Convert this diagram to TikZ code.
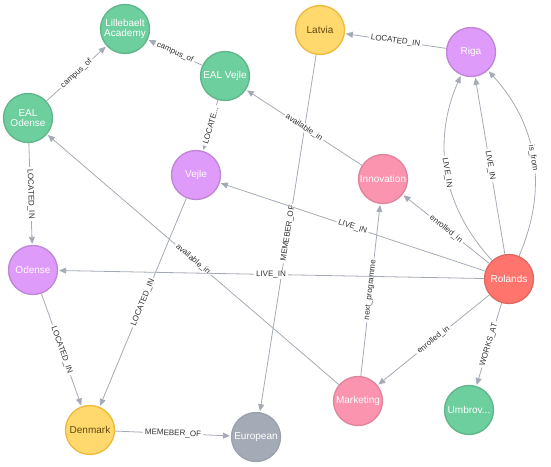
\documentclass[tikz,border=0pt]{standalone}
\usepackage{fontspec}
\setmainfont{Liberation Sans}
\usetikzlibrary{arrows.meta}
\definecolor{gfill}{HTML}{6DCE9E}\definecolor{gline}{HTML}{60B58B}
\definecolor{yfill}{HTML}{FFD86E}\definecolor{yline}{HTML}{EDBA39}
\definecolor{pfill}{HTML}{DE9BF9}\definecolor{pline}{HTML}{BF85D6}
\definecolor{kfill}{HTML}{FB95AF}\definecolor{kline}{HTML}{E0849B}
\definecolor{rfill}{HTML}{FF756E}\definecolor{rline}{HTML}{E06760}
\definecolor{afill}{HTML}{A5ABB6}\definecolor{aline}{HTML}{9AA1AC}
\definecolor{edgec}{HTML}{A5ABB6}
\definecolor{ytext}{HTML}{604A0E}
\begin{document}
\begin{tikzpicture}[x=1pt,y=-1pt,
  ent/.style={circle, minimum size=49pt, inner sep=0pt, line width=1.3pt, align=center,
    text=white, font=\fontsize{10}{10}\selectfont},
  green/.style={ent, fill=gfill, draw=gline},
  yel/.style={ent, fill=yfill, draw=yline, text=ytext},
  purp/.style={ent, fill=pfill, draw=pline},
  pink/.style={ent, fill=kfill, draw=kline},
  red/.style={ent, fill=rfill, draw=rline},
  grey/.style={ent, fill=afill, draw=aline},
  rel/.style={draw=edgec, line width=0.8pt, -{Triangle[length=7pt,width=6pt]}, shorten >=1pt},
  lbl/.style={midway, sloped, fill=white, inner xsep=2pt, inner ysep=0.5pt,
    font=\fontsize{8}{8}\selectfont, text=black!80}]
\useasboundingbox (0,0) rectangle (551,466);
% nodes
\node[green] (lil)   at (125,29)  {Lillebaelt\\Academy};
\node[green] (ealv)  at (225,76)  {EAL Vejle};
\node[green] (ealo)  at (28,118)  {EAL\\Odense};
\node[yel]   (lat)   at (320,30)  {Latvia};
\node[purp]  (riga)  at (471,52)  {Riga};
\node[purp]  (vejle) at (196,175) {Vejle};
\node[purp]  (ode)   at (33,270)  {Odense};
\node[pink]  (inno)  at (383,179) {Innovation};
\node[red]   (rol)   at (509,279) {Rolands};
\node[yel]   (den)   at (90,430)  {Denmark};
\node[grey]  (eu)    at (256,437) {European};
\node[pink]  (mkt)   at (358,401) {Marketing};
\node[green] (umb)   at (469,410) {Umbrov...};
% relationships
\draw[rel] (ealo) -- node[lbl]{campus\_of} (lil);
\draw[rel] (ealv) -- node[lbl]{campus\_of} (lil);
\draw[rel] (ealv) -- node[lbl]{LOCATE...} (vejle);
\draw[rel] (ealo) -- node[lbl]{LOCATED\_IN} (ode);
\draw[rel] (ode) -- node[lbl]{LOCATED\_IN} (den);
\draw[rel] (vejle) -- node[lbl]{LOCATED\_IN} (den);
\draw[rel] (den) -- node[lbl]{MEMEBER\_OF} (eu);
\draw[rel] (lat) -- node[lbl]{MEMEBER\_OF} (eu);
\draw[rel] (riga) -- node[lbl]{LOCATED\_IN} (lat);
\draw[rel] (inno) -- node[lbl]{available\_in} (ealv);
\draw[rel] (mkt) -- node[lbl]{available\_in} (ealo);
\draw[rel] (mkt) -- node[lbl]{next\_programme} (inno);
\draw[rel] (rol) -- node[lbl]{enrolled\_in} (inno);
\draw[rel] (rol) -- node[lbl]{enrolled\_in} (mkt);
\draw[rel] (rol) -- node[lbl]{WORKS\_AT} (umb);
\draw[rel] (rol) -- node[lbl]{LIVE\_IN} (vejle);
\draw[rel] (rol) -- node[lbl]{LIVE\_IN} (ode);
\draw[rel] (rol) to[bend left=33] node[lbl]{LIVE\_IN} (riga);
\draw[rel] (rol) -- node[lbl]{LIVE\_IN} (riga);
\draw[rel] (rol) to[bend right=33] node[lbl]{is\_from} (riga);
\end{tikzpicture}
\end{document}
